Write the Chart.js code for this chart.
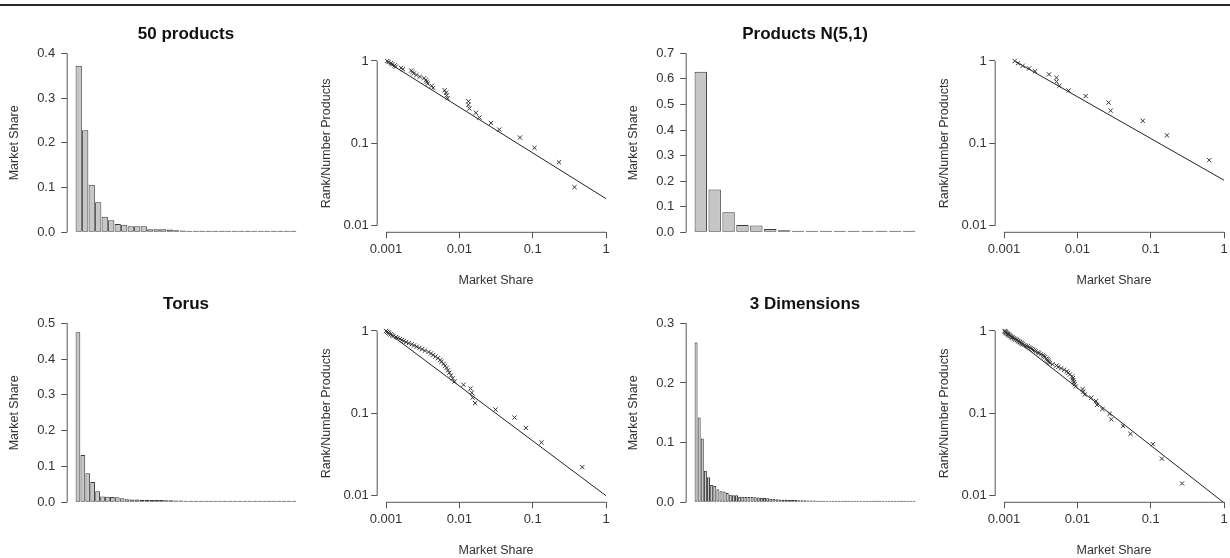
<!DOCTYPE html>
<html>
<head>
<meta charset="utf-8">
<script src="https://cdn.jsdelivr.net/npm/chart.js@4.4.1/dist/chart.umd.min.js"></script>
<style>
  html, body { margin: 0; padding: 0; background: #fff; overflow: hidden; }
  #fig { position: relative; width: 1230px; height: 558px; overflow: hidden; }
  #rule { position: absolute; left: 0; top: 4px; width: 1230px; height: 2px; background: #2a2a2a; }
  canvas { position: absolute; }
</style>
</head>
<body>
<div id="fig"><div id="rule"></div></div>
<script>
// market shares, sorted from the biggest product down
var shares50 = [0.372, 0.228, 0.106, 0.067, 0.035, 0.027, 0.0188, 0.0168, 0.0137, 0.0133,
  0.0133, 0.0069, 0.0067, 0.0066, 0.0063, 0.0044, 0.0042, 0.0037, 0.0036, 0.0035,
  0.0033, 0.0029, 0.0026, 0.0024, 0.0023, 0.0022, 0.0017, 0.0016, 0.00136, 0.00131,
  0.00122, 0.00117, 0.00108, 0.00104];
var sharesNormal = [0.628, 0.167, 0.078, 0.0285, 0.0267, 0.013, 0.0076, 0.0057, 0.0052, 0.0052,
  0.0041, 0.00265, 0.0022, 0.0018, 0.00155, 0.0014];
var sharesTorus = [0.475, 0.132, 0.081, 0.0565, 0.0312, 0.0164, 0.0152, 0.0148, 0.0142, 0.0114,
  0.0086, 0.0081, 0.0077, 0.0073, 0.007, 0.0067, 0.0064, 0.0061, 0.0057, 0.0055,
  0.0051, 0.0047, 0.0044, 0.0041, 0.0038, 0.0034, 0.0031, 0.00285, 0.00262, 0.00241,
  0.00224, 0.00204, 0.00188, 0.00174, 0.00165, 0.00155, 0.00144, 0.00137, 0.00126, 0.00121,
  0.00116, 0.00111, 0.00108, 0.00104, 0.001];
var shares3D = [0.268, 0.142, 0.107, 0.053, 0.042, 0.029, 0.0275, 0.022, 0.0185, 0.018,
  0.0155, 0.0126, 0.012, 0.0118, 0.0095, 0.0092, 0.009, 0.0088, 0.0087, 0.0085,
  0.0079, 0.0075, 0.0072, 0.0066, 0.006, 0.0055, 0.0052, 0.0046, 0.0042, 0.0041,
  0.004, 0.0039, 0.0038, 0.0036, 0.0035, 0.0034, 0.0032, 0.003, 0.0029, 0.0027,
  0.0026, 0.0025, 0.0024, 0.0023, 0.0022, 0.0021, 0.002, 0.0019, 0.0018, 0.00175,
  0.0017, 0.00165, 0.0016, 0.00155, 0.0015, 0.00145, 0.0014, 0.00135, 0.0013, 0.00127,
  0.00124, 0.0012, 0.00118, 0.00115, 0.00113, 0.0011, 0.00108, 0.00106, 0.00105, 0.00103,
  0.00102];

// end points of the fitted power-law lines (share, rank/number)
var fit50X = [0.00102, 1],     fit50Y = [0.98, 0.0213];
var fitNormalX = [0.00145, 1], fitNormalY = [0.98, 0.0357];
var fitTorusX = [0.00104, 1],  fitTorusY = [0.97, 0.01];
var fit3DX = [0.00102, 1],     fit3DY = [1, 0.0082];

var titles = ['50 products', 'Products N(5,1)', 'Torus', '3 Dimensions'];
var barMax = [0.4, 0.7, 0.5, 0.3];
var shareTicks = [0.001, 0.01, 0.1, 1];
var rankTicks = [0.01, 0.1, 1];

var textColor = '#333';
var axisColor = '#555';
Chart.defaults.font.family = "'Liberation Sans', Arial, Helvetica, sans-serif";
Chart.defaults.color = textColor;

var panelW = 310, panelH = 288;
var colX = [0, 310, 619, 928];
var rowY = [0, 270];

// R style axes: the line only runs from the first tick to the last one
var rAxes = {
  id: 'rAxes',
  afterDraw(chart) {
    var ctx = chart.ctx, a = chart.chartArea;
    ctx.save();
    ctx.strokeStyle = axisColor;
    ctx.lineWidth = 1;
    Object.values(chart.scales).forEach(s => {
      if (!s.options.display || !s.ticks.length) return;
      var p0 = s.getPixelForValue(s.ticks[0].value);
      var p1 = s.getPixelForValue(s.ticks[s.ticks.length - 1].value);
      ctx.beginPath();
      if (s.isHorizontal()) { ctx.moveTo(p0, a.bottom); ctx.lineTo(p1, a.bottom); }
      else { ctx.moveTo(a.left, p0); ctx.lineTo(a.left, p1); }
      ctx.stroke();
    });
    ctx.restore();
  }
};

function addCanvas(col, row) {
  var c = document.createElement('canvas');
  c.width = panelW;
  c.height = panelH;
  c.style.left = colX[col] + 'px';
  c.style.top = rowY[row] + 'px';
  document.getElementById('fig').appendChild(c);
  return c.getContext('2d');
}

function axisGrid() {
  return { drawOnChartArea: false, drawTicks: true, tickLength: 6, color: axisColor, lineWidth: 1 };
}

function barPanel(col, row, title, shares, yMax, fill) {
  var span = shares.length - 1 + fill;
  var pad = 0.038 * span;
  new Chart(addCanvas(col, row), {
    type: 'bar',
    data: {
      datasets: [{
        data: shares.map((s, i) => ({ x: i + 1, y: s })),
        backgroundColor: '#c6c6c6',
        borderColor: '#3a3a3a',
        borderWidth: 1,
        borderSkipped: false,
        minBarLength: 1.5,
        categoryPercentage: 1,
        barPercentage: fill
      }]
    },
    options: {
      responsive: false,
      animation: false,
      devicePixelRatio: 1,
      layout: { padding: { left: 7.2, top: 0, right: 5.2, bottom: 55.7 } },
      plugins: {
        legend: { display: false },
        tooltip: { enabled: false },
        title: {
          display: true, text: title, fullSize: false, color: '#111',
          font: { size: 17, weight: 'bold' }, padding: { top: 23.8, bottom: 9.1 }
        }
      },
      scales: {
        x: {
          type: 'linear', display: false,
          min: 1 - fill / 2 - pad, max: shares.length + fill / 2 + pad,
          afterBuildTicks: s => { s.ticks = []; }
        },
        y: {
          min: 0, max: yMax,
          afterFit: s => { s.width = 60; },
          border: { display: false },
          grid: axisGrid(),
          ticks: { stepSize: 0.1, padding: 6, font: { size: 13 }, callback: v => v.toFixed(1) },
          title: { display: true, text: 'Market Share', font: { size: 12.5 }, padding: 0 }
        }
      }
    },
    plugins: [rAxes]
  });
}

function scatterPanel(col, row, shares, fitX, fitY) {
  var n = shares.length;
  new Chart(addCanvas(col, row), {
    type: 'scatter',
    data: {
      datasets: [{
        data: shares.map((s, i) => ({ x: s, y: (i + 1) / n })),
        pointStyle: 'crossRot', pointRadius: 3,
        borderColor: '#333', backgroundColor: '#333', borderWidth: 1
      }, {
        data: fitX.map((x, i) => ({ x: x, y: fitY[i] })),
        showLine: true, pointRadius: 0, borderColor: '#222', borderWidth: 1
      }]
    },
    options: {
      responsive: false,
      animation: false,
      devicePixelRatio: 1,
      layout: { padding: { left: 9, top: 54.4, right: 5.2, bottom: 0 } },
      plugins: { legend: { display: false }, tooltip: { enabled: false } },
      scales: {
        x: {
          type: 'logarithmic',
          min: Math.pow(10, -3.12), max: Math.pow(10, 0.12),
          afterBuildTicks: s => { s.ticks = shareTicks.map(v => ({ value: v })); },
          afterFit: s => { s.height = 55.7; },
          border: { display: false },
          grid: axisGrid(),
          ticks: { padding: 3, font: { size: 13 }, autoSkip: false, maxRotation: 0, callback: v => String(v) },
          title: { display: true, text: 'Market Share', font: { size: 12.5 }, padding: 0 }
        },
        y: {
          type: 'logarithmic',
          min: Math.pow(10, -2.08), max: Math.pow(10, 0.08),
          afterBuildTicks: s => { s.ticks = rankTicks.map(v => ({ value: v })); },
          afterFit: s => { s.width = 58.2; },
          border: { display: false },
          grid: axisGrid(),
          ticks: { padding: 2.5, font: { size: 13 }, autoSkip: false, callback: v => String(v) },
          title: { display: true, text: 'Rank/Number Products', font: { size: 12.5 }, padding: 0 }
        }
      }
    },
    plugins: [rAxes]
  });
}

barPanel(0, 0, titles[0], shares50, barMax[0], 0.96);
scatterPanel(1, 0, shares50, fit50X, fit50Y);
barPanel(2, 0, titles[1], sharesNormal, barMax[1], 0.89);
scatterPanel(3, 0, sharesNormal, fitNormalX, fitNormalY);
barPanel(0, 1, titles[2], sharesTorus, barMax[2], 0.96);
scatterPanel(1, 1, sharesTorus, fitTorusX, fitTorusY);
barPanel(2, 1, titles[3], shares3D, barMax[3], 0.96);
scatterPanel(3, 1, shares3D, fit3DX, fit3DY);
</script>
</body>
</html>
